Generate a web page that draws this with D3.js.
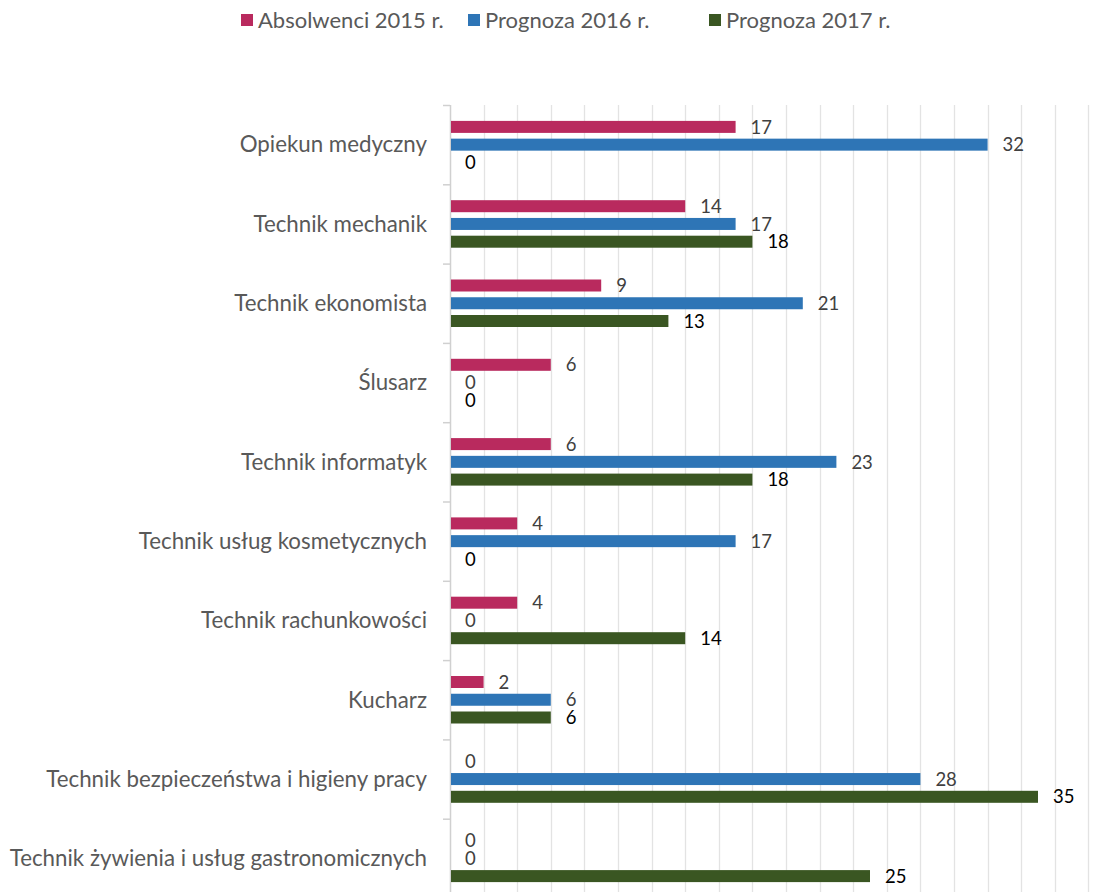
<!DOCTYPE html>
<html>
<head>
<meta charset="utf-8">
<script src="https://cdn.jsdelivr.net/npm/d3@7"></script>
<style>
  body { margin: 0; background: #fff; }
  text { font-family: Lato, "Open Sans", sans-serif; }
</style>
</head>
<body>
<div id="chart"></div>
<script>
// categories (top to bottom)
const categories = [
  "Opiekun medyczny",
  "Technik mechanik",
  "Technik ekonomista",
  "Ślusarz",
  "Technik informatyk",
  "Technik usług kosmetycznych",
  "Technik rachunkowości",
  "Kucharz",
  "Technik bezpieczeństwa i higieny pracy",
  "Technik żywienia i usług gastronomicznych"
];

const seriesNames = ["Absolwenci 2015 r.", "Prognoza 2016 r.", "Prognoza 2017 r."];
const seriesColors = ["#b92a5e", "#2e75b6", "#3a5622"];
const labelColors = ["#404040", "#404040", "#000000"];

const absolwenci2015 = [17, 14, 9, 6, 6, 4, 4, 2, 0, 0];
const prognoza2016 = [32, 17, 21, 0, 23, 17, 0, 6, 28, 0];
const prognoza2017 = [0, 18, 13, 0, 18, 0, 14, 6, 35, 25];

const xTicks = d3.range(0, 39, 2);

const seriesValues = [absolwenci2015, prognoza2016, prognoza2017];

const width = 1110, height = 892;
const margin = { top: 105, left: 450 };

const svg = d3.select("#chart").append("svg")
  .attr("width", width)
  .attr("height", height);

const x = d3.scaleLinear()
  .domain([0, 38])
  .range([margin.left, margin.left + 38 * 16.8]);

const y = d3.scaleBand()
  .domain(categories)
  .range([margin.top, margin.top + categories.length * 79.3]);

// position of each series bar inside a category band
const inner = d3.scalePoint()
  .domain(d3.range(seriesNames.length))
  .range([0, 35.5]);

const barH = 12;
const yOff = (y.bandwidth() - (35.5 + barH)) / 2;

// gridlines
svg.append("g")
  .selectAll("line")
  .data(xTicks.slice(1))
  .join("line")
  .attr("x1", d => Math.round(x(d)) + 0.5)
  .attr("x2", d => Math.round(x(d)) + 0.5)
  .attr("y1", margin.top)
  .attr("y2", height)
  .attr("stroke", "#e3e3e3")
  .attr("stroke-width", 1.3);

// left axis line + ticks
const axis = svg.append("g");
axis.append("line")
  .attr("x1", x(0) + 0.5).attr("x2", x(0) + 0.5)
  .attr("y1", margin.top).attr("y2", height)
  .attr("stroke", "#d0d0d0").attr("stroke-width", 1.5);
axis.selectAll(".tick")
  .data(categories)
  .join("line")
  .attr("class", "tick")
  .attr("x1", x(0) - 7).attr("x2", x(0))
  .attr("y1", d => y(d) + 0.5)
  .attr("y2", d => y(d) + 0.5)
  .attr("stroke", "#d0d0d0").attr("stroke-width", 1.5);

// category labels
svg.append("g")
  .selectAll("text")
  .data(categories)
  .join("text")
  .attr("x", x(0) - 23)
  .attr("y", d => y(d) + y.bandwidth() / 2)
  .attr("dy", "0.35em")
  .attr("text-anchor", "end")
  .attr("fill", "#595959")
  .style("font-size", "22.3px")
  .text(d => d);

// bars
const rows = [];
categories.forEach((c, i) => {
  seriesValues.forEach((vals, s) => {
    rows.push({ cat: c, s: s, v: vals[i] });
  });
});

svg.append("g")
  .selectAll("rect")
  .data(rows.filter(d => d.v > 0))
  .join("rect")
  .attr("x", x(0) + 1)
  .attr("y", d => y(d.cat) + yOff + inner(d.s))
  .attr("width", d => x(d.v) - x(0) - 1)
  .attr("height", barH)
  .attr("fill", d => seriesColors[d.s]);

// value labels
svg.append("g")
  .selectAll("text")
  .data(rows)
  .join("text")
  .attr("x", d => x(d.v) + 15)
  .attr("y", d => y(d.cat) + yOff + inner(d.s) + barH / 2)
  .attr("dy", "0.36em")
  .attr("fill", d => labelColors[d.s])
  .style("font-size", "18.5px")
  .text(d => d.v);

// legend
const legendX = [241, 468, 709];
const legend = svg.append("g")
  .selectAll("g")
  .data(seriesNames)
  .join("g")
  .attr("transform", (d, i) => `translate(${legendX[i]},20)`);
legend.append("rect")
  .attr("x", 0).attr("y", -6)
  .attr("width", 12).attr("height", 12)
  .attr("fill", (d, i) => seriesColors[i]);
legend.append("text")
  .attr("x", 17)
  .attr("dy", "0.35em")
  .attr("fill", "#595959")
  .style("font-size", "22px")
  .text(d => d);
</script>
</body>
</html>
